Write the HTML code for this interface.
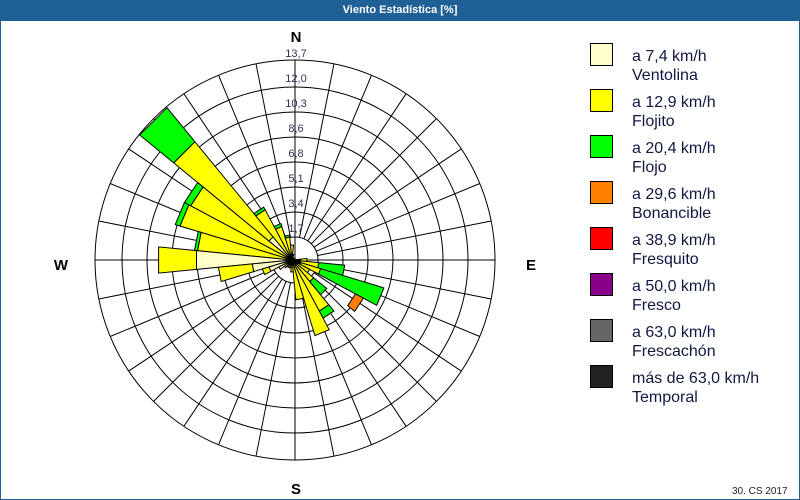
<!DOCTYPE html>
<html><head><meta charset="utf-8"><style>
html,body{margin:0;padding:0;background:#fff}
#w{position:relative;width:800px;height:500px;overflow:hidden;font-family:"Liberation Sans",sans-serif;background:#fff}
#t{position:absolute;left:0;top:0;width:800px;height:21px;background:#1f6097;color:#fff;font-size:11px;font-weight:bold;text-align:center;line-height:21px}
#fr{position:absolute;left:0;top:21px;width:798px;height:478px;border:1px solid #1f6097;border-top:none}
.lg{position:absolute;left:590px;width:23px;height:23px;border:1px solid #000;box-sizing:border-box}
.lt{position:absolute;left:632px;font-size:16px;line-height:19px;color:#111840}
</style></head><body><div id="w">
<div id="t">Viento Estadística [%]</div><div id="fr"></div>
<svg id="s" width="800" height="500" style="position:absolute;left:0;top:0"></svg>
<div class="lg" style="top:43px;background:#ffffc8"></div><div class="lt" style="top:47px">a 7,4 km/h<br>Ventolina</div>
<div class="lg" style="top:89px;background:#ffff00"></div><div class="lt" style="top:93px">a 12,9 km/h<br>Flojito</div>
<div class="lg" style="top:135px;background:#00ff00"></div><div class="lt" style="top:139px">a 20,4 km/h<br>Flojo</div>
<div class="lg" style="top:181px;background:#ff8000"></div><div class="lt" style="top:185px">a 29,6 km/h<br>Bonancible</div>
<div class="lg" style="top:227px;background:#ff0000"></div><div class="lt" style="top:231px">a 38,9 km/h<br>Fresquito</div>
<div class="lg" style="top:273px;background:#8b008b"></div><div class="lt" style="top:277px">a 50,0 km/h<br>Fresco</div>
<div class="lg" style="top:319px;background:#666666"></div><div class="lt" style="top:323px">a 63,0 km/h<br>Frescachón</div>
<div class="lg" style="top:365px;background:#222222"></div><div class="lt" style="top:369px">más de 63,0 km/h<br>Temporal</div>
<div style="position:absolute;left:732px;top:486px;font-size:10px;color:#222">30. CS 2017</div>
</div>
<script>
var s=document.getElementById('s'),h='';
var cx=295,cy=260,hx=292,hy=260;
var rings=[23,48,73,98,123,148,173,200];
rings.forEach(function(r){h+='<circle cx="'+cx+'" cy="'+cy+'" r="'+r+'" fill="none" stroke="#000" stroke-width="1"/>';});
function P(x0,y0,b,r){var a=b*Math.PI/180;return [x0+r*Math.sin(a),y0-r*Math.cos(a)];}
for(var k=0;k<32;k++){var b=k*11.25;var p1=P(cx,cy,b,23),p2=P(cx,cy,b,200);
h+='<line x1="'+p1[0].toFixed(1)+'" y1="'+p1[1].toFixed(1)+'" x2="'+p2[0].toFixed(1)+'" y2="'+p2[1].toFixed(1)+'" stroke="#000" stroke-width="1"/>';}
h+='<line x1="95" y1="260" x2="495" y2="260" stroke="#000"/><line x1="295" y1="60" x2="295" y2="460" stroke="#000"/>';
var Y='#ffff00',V='#ffffc8',G='#00ff00',O='#ff8000';
var W=[[315,[[V,0,30],[Y,30,153],[G,153,197]]],[303.75,[[Y,0,115],[G,115,122]]],[292.5,[[Y,0,117],[G,117,122]]],
[281.25,[[Y,0,95],[G,95,98]]],[270,[[V,0,96],[Y,96,134]]],[258.75,[[V,0,40],[Y,40,74]]],[247.5,[[V,0,24],[Y,24,31]]],
[236.25,[[V,0,15]]],[225,[[V,0,10]]],[213.75,[[V,0,8]]],[202.5,[[V,0,8]]],[191.25,[[V,0,8]]],
[326.25,[[Y,0,57],[G,57,60]]],[337.5,[[Y,0,35],[G,35,38]]],[348.75,[[Y,0,23],[G,23,25]]],[0,[[Y,0,15]]],
[11.25,[[V,0,6]]],[90,[[Y,0,15]]],[101.25,[[Y,0,27],[G,27,53]]],[112.5,[[Y,0,30],[G,30,96]]],[123.75,[[Y,0,20],[O,72,81]]],
[135,[[Y,0,28],[G,28,45]]],[146.25,[[Y,0,58],[G,58,66]]],[157.5,[[Y,0,79]]],[168.75,[[Y,0,40]]],[180,[[Y,0,12]]]];
W.forEach(function(w){var b=w[0];w[1].forEach(function(sg){var a1=b-5.625,a2=b+5.625;
var A=P(hx,hy,a1,sg[1]),B=P(hx,hy,a1,sg[2]),C=P(hx,hy,a2,sg[2]),D=P(hx,hy,a2,sg[1]);
h+='<polygon points="'+[A,B,C,D].map(function(p){return p[0].toFixed(1)+','+p[1].toFixed(1)}).join(' ')+'" fill="'+sg[0]+'" stroke="#000" stroke-width="1"/>';});});
h+='<circle cx="292" cy="261" r="4" fill="#000"/><rect x="289" y="259" width="12" height="5" fill="#000"/>';
var L=['13,7','12,0','10,3','8,6','6,8','5,1','3,4','1,7'];
L.forEach(function(t,i){h+='<text x="296" y="'+(57+25*i)+'" text-anchor="middle" font-family="Liberation Sans, sans-serif" font-size="11" fill="#333355">'+t+'</text>';});
function T(x,y,t){h+='<text x="'+x+'" y="'+y+'" text-anchor="middle" font-family="Liberation Sans, sans-serif" font-size="15" font-weight="bold" fill="#000">'+t+'</text>';}
T(296,42,'N');T(61,270,'W');T(531,270,'E');T(296,494,'S');
s.innerHTML=h;
</script>
</body></html>
